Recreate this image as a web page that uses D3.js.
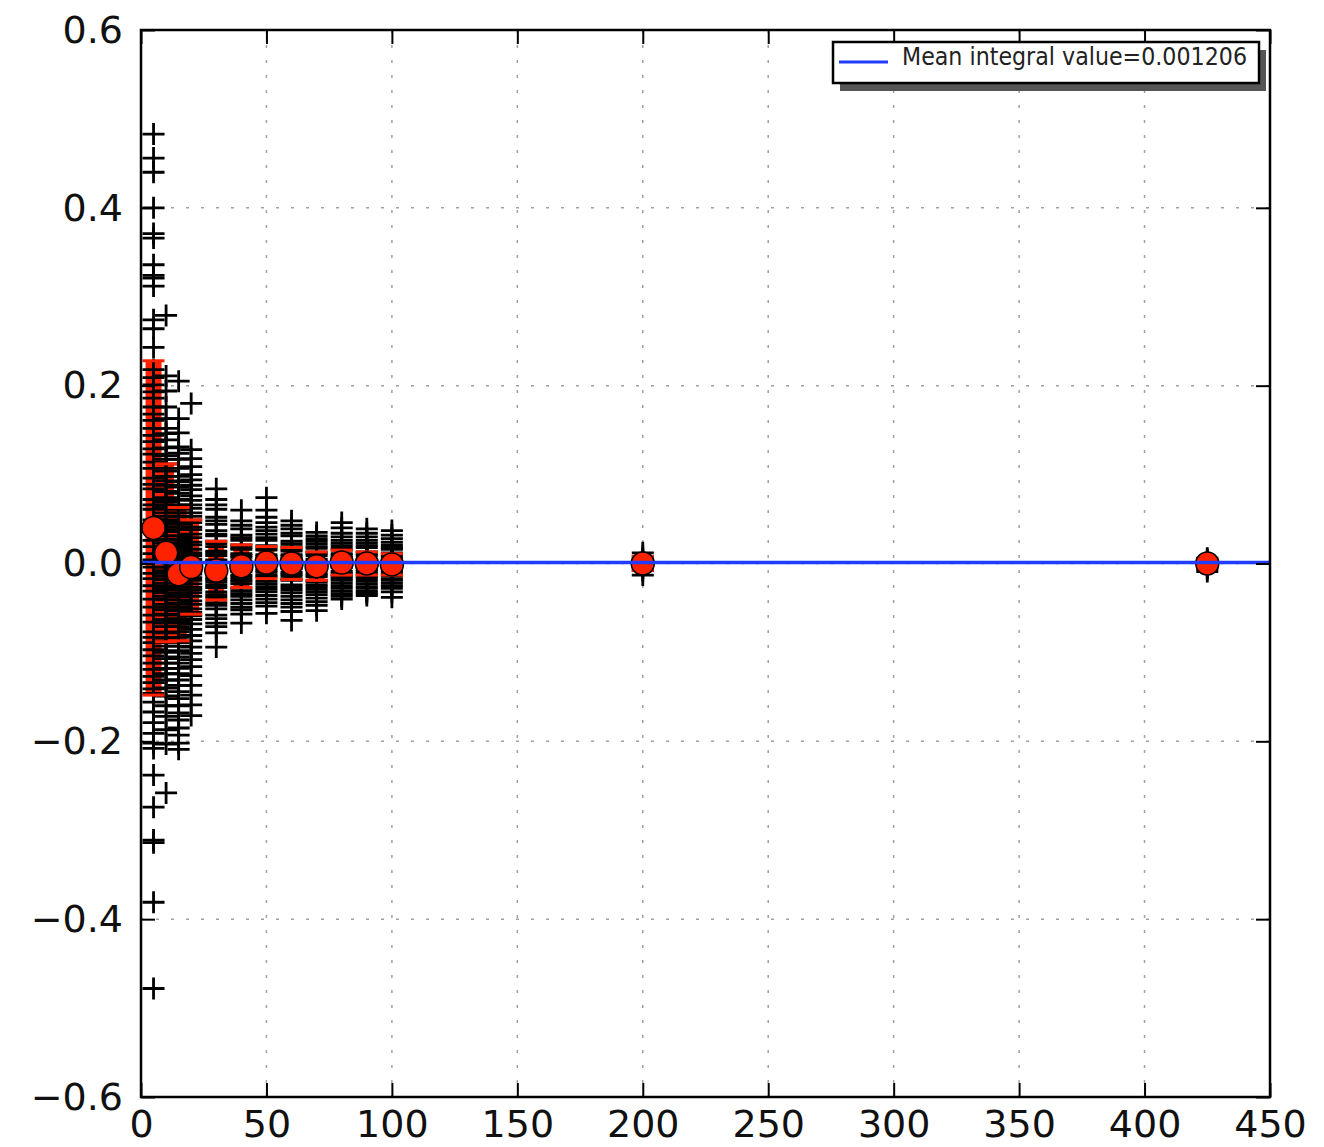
<!DOCTYPE html>
<html><head><meta charset="utf-8">
<script src="https://cdn.jsdelivr.net/npm/d3@7"></script>
<style>
html,body{margin:0;padding:0;background:#fff;}
text{font-family:"DejaVu Sans",sans-serif;}
</style></head>
<body>
<svg id="chart" width="1324" height="1147"></svg>
<script>
// ---- data ----
const xValues = [5, 10, 15, 20, 30, 40, 50, 60, 70, 80, 90, 100, 200, 425];
const means   = [0.040, 0.012, -0.012, -0.004, -0.008, -0.003, 0.001, 0.000, -0.003, 0.001, 0.000, -0.001, 0.000, 0.000];
const errors  = [0.188, 0.100, 0.075, 0.053, 0.033, 0.024, 0.018, 0.018, 0.016, 0.014, 0.013, 0.012, 0.008, 0.005];

const trials5   = [0.483, 0.456, 0.440, 0.400, 0.371, 0.366, 0.336, 0.324, 0.321, 0.312, 0.274, 0.264, 0.243, 0.218, 0.209, 0.201, 0.193, 0.186, 0.176, 0.168, 0.161, 0.152, 0.144, 0.137, 0.129, 0.123, 0.114, 0.107, 0.096, 0.089, 0.084, 0.072, 0.066, 0.061, 0.049, 0.043, 0.036, 0.026, 0.019, 0.011, 0.004, -0.004, -0.011, -0.017, -0.025, -0.031, -0.040, -0.049, -0.058, -0.066, -0.077, -0.083, -0.089, -0.097, -0.104, -0.112, -0.119, -0.127, -0.134, -0.141, -0.146, -0.156, -0.167, -0.179, -0.191, -0.202, -0.208, -0.238, -0.274, -0.311, -0.314, -0.381, -0.478];
const trials10  = [0.279, 0.211, 0.194, 0.176, 0.163, 0.152, 0.146, 0.139, 0.130, 0.121, 0.117, 0.112, 0.104, 0.098, 0.093, 0.088, 0.081, 0.074, 0.069, 0.063, 0.057, 0.053, 0.049, 0.045, 0.041, 0.036, 0.031, 0.027, 0.023, 0.019, 0.013, 0.009, 0.006, 0.001, -0.004, -0.008, -0.014, -0.018, -0.022, -0.026, -0.029, -0.033, -0.037, -0.041, -0.046, -0.052, -0.057, -0.063, -0.067, -0.071, -0.078, -0.084, -0.088, -0.093, -0.100, -0.107, -0.112, -0.118, -0.124, -0.131, -0.140, -0.149, -0.160, -0.172, -0.187, -0.203, -0.258];
const trials15  = [0.205, 0.163, 0.147, 0.131, 0.124, 0.117, 0.107, 0.098, 0.092, 0.086, 0.079, 0.072, 0.066, 0.061, 0.057, 0.053, 0.048, 0.044, 0.038, 0.031, 0.026, 0.022, 0.018, 0.014, 0.007, 0.003, -0.003, -0.007, -0.011, -0.018, -0.022, -0.026, -0.030, -0.034, -0.037, -0.041, -0.045, -0.049, -0.053, -0.058, -0.062, -0.066, -0.071, -0.077, -0.083, -0.089, -0.093, -0.098, -0.105, -0.112, -0.118, -0.124, -0.131, -0.137, -0.144, -0.152, -0.160, -0.168, -0.176, -0.185, -0.193, -0.202, -0.209];
const trials20  = [0.180, 0.128, 0.118, 0.109, 0.100, 0.094, 0.088, 0.083, 0.076, 0.071, 0.066, 0.062, 0.057, 0.053, 0.049, 0.046, 0.041, 0.038, 0.033, 0.029, 0.024, 0.021, 0.016, 0.012, 0.009, 0.005, 0.002, -0.002, -0.006, -0.009, -0.012, -0.016, -0.019, -0.023, -0.027, -0.030, -0.033, -0.037, -0.042, -0.046, -0.051, -0.055, -0.059, -0.063, -0.068, -0.074, -0.081, -0.087, -0.094, -0.101, -0.108, -0.116, -0.126, -0.137, -0.148, -0.159, -0.171];
const trials30  = [0.084, 0.072, 0.066, 0.061, 0.052, 0.048, 0.044, 0.037, 0.033, 0.031, 0.025, 0.022, 0.019, 0.014, 0.012, 0.009, 0.004, 0.002, -0.001, -0.006, -0.008, -0.011, -0.016, -0.018, -0.021, -0.024, -0.027, -0.032, -0.035, -0.038, -0.044, -0.047, -0.051, -0.058, -0.062, -0.067, -0.071, -0.078, -0.094];
const trials40  = [0.060, 0.048, 0.043, 0.039, 0.032, 0.029, 0.026, 0.021, 0.018, 0.016, 0.011, 0.009, 0.007, 0.003, 0.001, -0.001, -0.005, -0.007, -0.009, -0.013, -0.015, -0.018, -0.020, -0.023, -0.028, -0.031, -0.034, -0.037, -0.041, -0.045, -0.049, -0.052, -0.057, -0.067];
const trials50  = [0.074, 0.060, 0.052, 0.046, 0.041, 0.037, 0.033, 0.029, 0.026, 0.020, 0.017, 0.015, 0.010, 0.008, 0.006, 0.002, 0.000, -0.002, -0.006, -0.008, -0.010, -0.013, -0.015, -0.020, -0.023, -0.026, -0.029, -0.032, -0.036, -0.040, -0.044, -0.048, -0.056];
const trials60  = [0.048, 0.043, 0.039, 0.034, 0.031, 0.025, 0.022, 0.019, 0.016, 0.014, 0.010, 0.008, 0.006, 0.002, 0.000, -0.002, -0.004, -0.006, -0.010, -0.012, -0.014, -0.017, -0.019, -0.024, -0.027, -0.030, -0.033, -0.037, -0.041, -0.045, -0.049, -0.054, -0.064];
const trials70  = [0.035, 0.031, 0.028, 0.025, 0.022, 0.019, 0.017, 0.013, 0.011, 0.009, 0.005, 0.003, 0.001, -0.001, -0.003, -0.005, -0.007, -0.011, -0.013, -0.015, -0.019, -0.021, -0.024, -0.026, -0.029, -0.032, -0.035, -0.039, -0.043, -0.047, -0.053];
const trials80  = [0.046, 0.040, 0.034, 0.030, 0.026, 0.023, 0.020, 0.017, 0.015, 0.011, 0.009, 0.007, 0.003, 0.001, -0.001, -0.003, -0.005, -0.009, -0.011, -0.013, -0.015, -0.017, -0.019, -0.022, -0.025, -0.028, -0.031, -0.034, -0.037, -0.040];
const trials90  = [0.039, 0.034, 0.030, 0.026, 0.023, 0.020, 0.018, 0.013, 0.011, 0.009, 0.005, 0.003, 0.001, -0.001, -0.003, -0.005, -0.007, -0.009, -0.011, -0.013, -0.015, -0.017, -0.020, -0.023, -0.026, -0.028, -0.031, -0.033, -0.036];
const trials100 = [0.037, 0.032, 0.028, 0.024, 0.021, 0.018, 0.016, 0.012, 0.010, 0.008, 0.006, 0.004, 0.002, 0.000, -0.002, -0.004, -0.006, -0.008, -0.010, -0.012, -0.014, -0.017, -0.019, -0.022, -0.025, -0.028, -0.032, -0.038];
const trials200 = [0.012, 0.008, 0.005, 0.003, 0.001, -0.001, -0.003, -0.005, -0.008, -0.013];
const trials425 = [0.006, 0.004, 0.002, 0.000, -0.002, -0.004, -0.006, -0.009];
const trialSets = [trials5, trials10, trials15, trials20, trials30, trials40, trials50, trials60, trials70, trials80, trials90, trials100, trials200, trials425];

const meanIntegral = 0.001206;
const legendLabel = "Mean integral value=0.001206";
const xTicks = [0, 50, 100, 150, 200, 250, 300, 350, 400, 450];
const yTicks = [-0.6, -0.4, -0.2, 0.0, 0.2, 0.4, 0.6];

// ---- layout ----
const L = 141, R = 1270, T = 30, B = 1097;
const svg = d3.select("#chart");
const x = d3.scaleLinear().domain([0, 450]).range([L, R]);
const y = d3.scaleLinear().domain([-0.6, 0.6]).range([B, T]);

// grid
const grid = svg.append("g").attr("stroke", "#a0a0a0").attr("stroke-width", 1.5).attr("stroke-dasharray", "3,12");
grid.selectAll("line.gx").data(xTicks.slice(1, -1)).join("line")
  .attr("x1", d => x(d)).attr("x2", d => x(d)).attr("y1", T).attr("y2", B);
grid.selectAll("line.gy").data(yTicks.slice(1, -1)).join("line")
  .attr("x1", L).attr("x2", R).attr("y1", d => y(d)).attr("y2", d => y(d));

const plot = svg.append("g");
const cols = xValues.map((xv, i) => ({x: xv, m: means[i], e: errors[i], t: trialSets[i]}));

// error bars (thick red)
plot.selectAll("rect.err").data(cols).join("rect")
  .attr("x", d => x(d.x) - 8).attr("width", 16)
  .attr("y", d => y(d.m + d.e)).attr("height", d => y(d.m - d.e) - y(d.m + d.e))
  .attr("fill", "#ff2200");

// black plus markers
const pts = cols.flatMap(c => c.t.map(v => ({x: c.x, v})));
plot.selectAll("path.plus").data(pts).join("path")
  .attr("d", d => `M${x(d.x) - 11},${y(d.v)}H${x(d.x) + 11}M${x(d.x)},${y(d.v) - 11}V${y(d.v) + 11}`)
  .attr("stroke", "#000").attr("stroke-width", 2.8).attr("fill", "none");

// caps
const caps = cols.flatMap(c => [c.m + c.e, c.m - c.e].map(v => ({x: c.x, v})));
plot.selectAll("line.cap").data(caps).join("line")
  .attr("x1", d => x(d.x) - 11).attr("x2", d => x(d.x) + 11)
  .attr("y1", d => y(d.v)).attr("y2", d => y(d.v))
  .attr("stroke", "#ff2200").attr("stroke-width", 3);

// mean circles
plot.selectAll("circle.mean").data(cols).join("circle")
  .attr("cx", d => x(d.x)).attr("cy", d => y(d.m)).attr("r", 11.5)
  .attr("fill", "#ff2200").attr("stroke", "#000").attr("stroke-width", 1.5);

// mean line
svg.append("line").attr("x1", L).attr("x2", R)
  .attr("y1", y(meanIntegral)).attr("y2", y(meanIntegral))
  .attr("stroke", "#1f3cff").attr("stroke-width", 3.5);

// axes
const fs = 38;
const ax = svg.append("g").attr("transform", `translate(0,${B})`)
  .call(d3.axisBottom(x).tickValues(xTicks).tickFormat(d3.format("d")).tickSizeInner(-14).tickSizeOuter(0).tickPadding(13));
const ay = svg.append("g").attr("transform", `translate(${L},0)`)
  .call(d3.axisLeft(y).tickValues(yTicks).tickFormat(d => d3.format(".1f")(d).replace("-", "\u2212")).tickSizeInner(-14).tickSizeOuter(0).tickPadding(18));
const at = svg.append("g").attr("transform", `translate(0,${T})`)
  .call(d3.axisTop(x).tickValues(xTicks).tickFormat("").tickSizeInner(-14).tickSizeOuter(0));
const ar = svg.append("g").attr("transform", `translate(${R},0)`)
  .call(d3.axisRight(y).tickValues(yTicks).tickFormat("").tickSizeInner(-14).tickSizeOuter(0));
[ax, ay, at, ar].forEach(g => {
  g.select(".domain").remove();
  g.selectAll(".tick line").attr("stroke", "#000").attr("stroke-width", 2);
  g.selectAll("text").attr("font-size", fs).attr("fill", "#111").attr("font-family", "DejaVu Sans");
});

// frame
svg.append("rect").attr("x", L).attr("y", T).attr("width", R - L).attr("height", B - T)
  .attr("fill", "none").attr("stroke", "#000").attr("stroke-width", 2.5);

// legend
const lg = svg.append("g");
lg.append("rect").attr("x", 840).attr("y", 50).attr("width", 426).attr("height", 41).attr("fill", "#555");
lg.append("rect").attr("x", 833).attr("y", 42).attr("width", 426).attr("height", 41)
  .attr("fill", "#fff").attr("stroke", "#000").attr("stroke-width", 2.5);
lg.append("line").attr("x1", 839).attr("x2", 888).attr("y1", 62).attr("y2", 62)
  .attr("stroke", "#1f3cff").attr("stroke-width", 3);
lg.append("text").attr("x", 902).attr("y", 65).attr("font-size", 24)
  .attr("textLength", 345).attr("lengthAdjust", "spacingAndGlyphs")
  .attr("fill", "#222").text(legendLabel);
</script>
</body></html>
